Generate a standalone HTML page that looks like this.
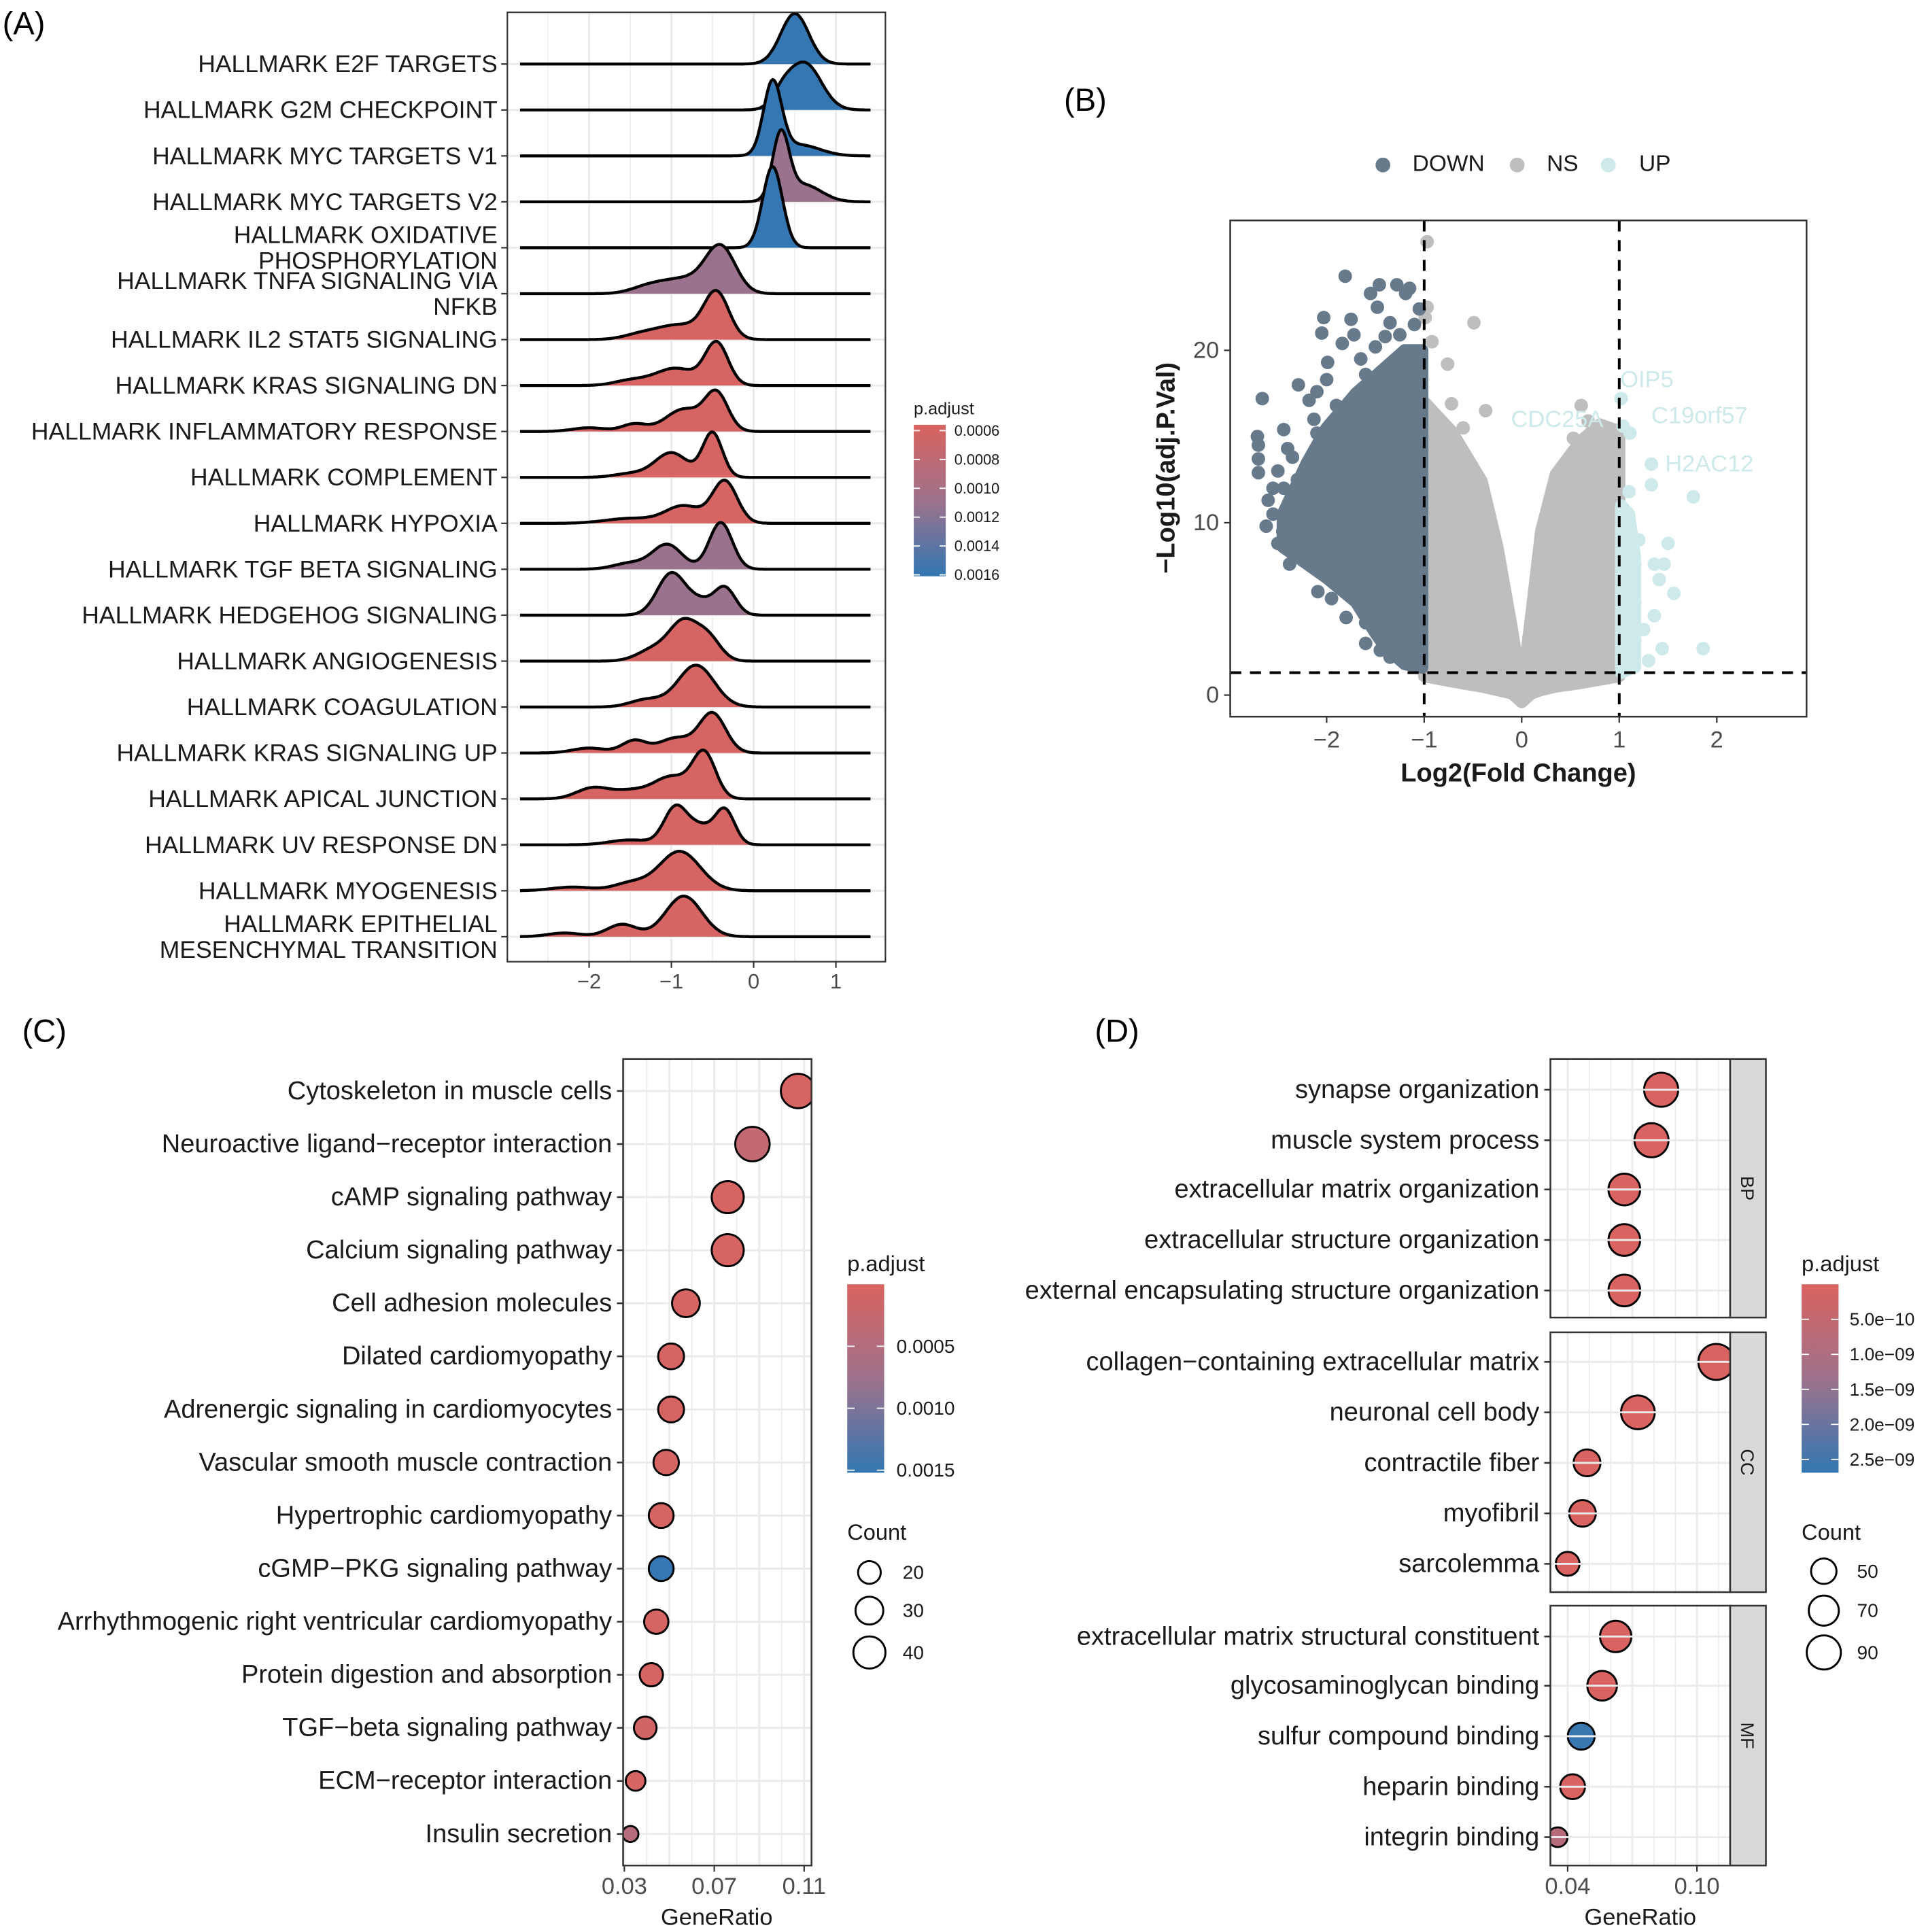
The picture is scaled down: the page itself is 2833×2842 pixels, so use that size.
<!DOCTYPE html>
<html><head><meta charset="utf-8"><style>
html,body{margin:0;padding:0;background:#fff;}
svg{display:block;font-family:"Liberation Sans",Arial,sans-serif;}
</style></head>
<body>
<svg id="fig" xmlns="http://www.w3.org/2000/svg" width="2833" height="2842" viewBox="0 0 1564 1569" preserveAspectRatio="none">
<defs>
<linearGradient id="gradA" x1="0" y1="0" x2="0" y2="1"><stop offset="0" stop-color="#d9635f"/><stop offset="0.5" stop-color="#9e728c"/><stop offset="1" stop-color="#3277b3"/></linearGradient>
<clipPath id="clipA"><rect x="412" y="10" width="307" height="771"/></clipPath>
<clipPath id="clipB"><rect x="999" y="179" width="468" height="403"/></clipPath>
<clipPath id="clipC"><rect x="506" y="860" width="153" height="655"/></clipPath>
<clipPath id="clipD1"><rect x="1259" y="860" width="146" height="210"/></clipPath>
<clipPath id="clipD2"><rect x="1259" y="1082" width="146" height="211"/></clipPath>
<clipPath id="clipD3"><rect x="1259" y="1304" width="146" height="211"/></clipPath>
</defs>
<rect x="0" y="0" width="1564" height="1569" fill="#fff"/>
<text x="2" y="28" font-size="26">(A)</text>
<text x="864" y="90" font-size="26">(B)</text>
<text x="18" y="846" font-size="26">(C)</text>
<text x="889" y="846" font-size="26">(D)</text>
<g id="gA"></g>
<g id="gB"></g>
<g id="gC"></g>
<g id="gD"></g>
</svg>
<script>
// ===== Panel A data =====
const ridgeNames = [["HALLMARK E2F TARGETS"],["HALLMARK G2M CHECKPOINT"],["HALLMARK MYC TARGETS V1"],["HALLMARK MYC TARGETS V2"],["HALLMARK OXIDATIVE","PHOSPHORYLATION"],["HALLMARK TNFA SIGNALING VIA","NFKB"],["HALLMARK IL2 STAT5 SIGNALING"],["HALLMARK KRAS SIGNALING DN"],["HALLMARK INFLAMMATORY RESPONSE"],["HALLMARK COMPLEMENT"],["HALLMARK HYPOXIA"],["HALLMARK TGF BETA SIGNALING"],["HALLMARK HEDGEHOG SIGNALING"],["HALLMARK ANGIOGENESIS"],["HALLMARK COAGULATION"],["HALLMARK KRAS SIGNALING UP"],["HALLMARK APICAL JUNCTION"],["HALLMARK UV RESPONSE DN"],["HALLMARK MYOGENESIS"],["HALLMARK EPITHELIAL","MESENCHYMAL TRANSITION"]];
const ridgePadj = [0.0016,0.0016,0.0016,0.0011,0.0016,0.0011,0.0006,0.0006,0.0006,0.0006,0.0006,0.0011,0.0011,0.0006,0.0006,0.0006,0.0006,0.0006,0.0006,0.0006];
// density components: [center log2FC, sd, relative height]
const ridgeComponents = [
 [[0.5,0.17,41]],
 [[0.62,0.2,38],[0.35,0.12,10]],
 [[0.23,0.11,58],[0.55,0.25,9]],
 [[0.33,0.1,52],[0.6,0.22,14]],
 [[0.23,0.12,66]],
 [[-0.4,0.18,36],[-0.85,0.3,12],[-1.3,0.2,4]],
 [[-0.45,0.15,36],[-0.9,0.3,12],[-1.4,0.2,3]],
 [[-0.45,0.14,34],[-0.95,0.25,14],[-1.5,0.2,4]],
 [[-0.45,0.14,30],[-0.85,0.22,18],[-1.45,0.15,6],[-2.0,0.2,3]],
 [[-0.5,0.12,36],[-1.0,0.2,20],[-1.5,0.2,3]],
 [[-0.35,0.15,34],[-0.85,0.22,14],[-1.5,0.3,4]],
 [[-0.4,0.14,38],[-1.05,0.18,20],[-1.5,0.2,5]],
 [[-1.0,0.17,34],[-0.35,0.13,22],[-0.65,0.15,10]],
 [[-0.85,0.17,30],[-0.55,0.15,18],[-1.2,0.2,10]],
 [[-0.7,0.22,34],[-1.3,0.2,6]],
 [[-0.5,0.16,32],[-0.95,0.2,12],[-1.45,0.15,10],[-2.0,0.2,4]],
 [[-0.6,0.14,36],[-1.0,0.22,18],[-1.95,0.2,9],[-1.5,0.2,6]],
 [[-0.95,0.14,30],[-0.35,0.12,28],[-0.65,0.15,14],[-1.5,0.25,4]],
 [[-0.9,0.25,32],[-1.5,0.2,6],[-2.2,0.25,3]],
 [[-0.85,0.22,33],[-1.6,0.18,10],[-2.3,0.2,3]]
];
const ridgeTicks = [-2,-1,0,1];
const ridgeLegendTicks = [0.0006,0.0008,0.0010,0.0012,0.0014,0.0016];

// ===== Panel B data =====
const volLegend = ["DOWN","NS","UP"];
const volXTicks = [-2,-1,0,1,2];
const volYTicks = [0,10,20];
// NS left cloud envelope: [log2FC, top, bottom]
const nsLeftEnv = [[-1.0,17.0,1.1],[-0.72,15.3,0.8],[-0.41,12.4,0.5],[-0.25,8.6,0.3],[-0.1,3.8,0.1],[0,0.2,-0.4]];
const nsRightEnv = [[0,0.2,-0.4],[0.1,4.7,0.1],[0.2,9.5,0.3],[0.35,12.8,0.5],[0.6,14.7,0.7],[0.8,15.7,0.9],[1.0,15.3,1.1]];
const downEnv = [[-2.45,10.5,8.6],[-2.2,13.5,7.6],[-2.0,15.5,6.8],[-1.7,17.5,5.4],[-1.5,18.5,3.6],[-1.4,19.0,2.8],[-1.2,20.0,1.8],[-1.02,20.0,1.6]];
const upEnv = [[1.02,11.0,1.3],[1.1,10.5,1.5],[1.16,8.0,1.6]];
const downPts = [[-1.81,24.3],[-1.55,23.3],[-1.46,23.8],[-1.28,23.8],[-1.15,23.6],[-1.19,23.3],[-1.48,22.5],[-2.03,21.9],[-2.05,21.0],[-1.75,21.8],[-1.72,20.9],[-1.84,20.4],[-2.66,17.2],[-2.29,18.0],[-2.71,15.0],[-2.70,14.5],[-2.70,13.7],[-2.70,12.9],[-2.44,15.4],[-2.44,12.0],[-2.38,7.6],[-1.80,4.5],[-2.09,6.0],[-1.99,19.3],[-2.18,17.1],[-2.13,16.0],[-2.55,10.5],[-2.45,9.5],[-1.6,3.0],[-1.35,2.2],
 [-2.5,13.0],[-2.55,12.0],[-2.35,13.8],[-2.3,12.5],[-2.25,11.0],[-2.35,10.0],[-2.2,9.5],[-2.15,8.2],[-2.0,7.2],[-1.95,5.6],[-1.9,7.8],[-1.7,6.0],[-1.6,4.2],[-1.55,5.5],[-1.45,2.6],[-1.3,3.5],[-1.25,2.2],[-1.12,1.8],
 [-2.1,17.6],[-2.0,18.3],[-1.9,16.8],[-1.65,19.5],[-1.6,18.6],[-1.5,20.2],[-1.4,20.8],[-1.35,21.6],[-1.25,20.9],[-1.1,21.5],[-1.05,22.4],[-1.9,14.5],[-2.1,15.2],[-2.4,14.3],[-2.6,11.3],[-2.62,9.8],[-2.5,8.8]];
const nsPts = [[-0.97,26.3],[-0.97,22.5],[-0.49,21.6],[-0.99,21.9],[-0.92,20.5],[-0.76,19.2],[-0.72,16.9],[-0.37,16.5],[0.61,16.8],[-0.6,15.5],[0.53,14.9],[0.81,15.5],[0.68,15.9]];
const upPts = [[1.02,17.2],[1.04,15.6],[1.11,15.2],[1.33,13.4],[1.33,12.2],[1.76,11.5],[1.1,11.8],[1.07,10.3],[1.08,9.4],[1.5,8.8],[1.36,7.6],[1.56,5.9],[1.46,7.6],[1.41,6.7],[1.36,4.6],[1.86,2.7],[1.44,2.7],[1.16,3.2],[1.05,6.7],[1.12,4.8],[1.03,1.9],[1.3,2.0],[1.16,5.4],[1.16,7.6],[1.25,3.8],[1.2,9.0]];
const volLabels = [["OIP5",1.01,18.3],["C19orf57",1.33,16.2],["CDC25A",-0.11,16.0],["H2AC12",1.47,13.4]];

// ===== Panel C data =====
const keggTerms = ["Cytoskeleton in muscle cells","Neuroactive ligand\u2212receptor interaction","cAMP signaling pathway","Calcium signaling pathway","Cell adhesion molecules","Dilated cardiomyopathy","Adrenergic signaling in cardiomyocytes","Vascular smooth muscle contraction","Hypertrophic cardiomyopathy","cGMP\u2212PKG signaling pathway","Arrhythmogenic right ventricular cardiomyopathy","Protein digestion and absorption","TGF\u2212beta signaling pathway","ECM\u2212receptor interaction","Insulin secretion"];
const keggRatio = [0.1073,0.087,0.076,0.076,0.0574,0.0508,0.0508,0.0486,0.0464,0.0464,0.0442,0.042,0.0393,0.035,0.0327];
const keggCount = [46,46,40,40,30,26,26,25,24,24,23,21,20,15,10];
const keggPadj = [0.00005,0.0003,0.00005,0.00005,0.00005,0.00005,0.00005,0.00005,0.00005,0.00150,0.00005,0.00005,0.0001,0.00005,0.00045];
const keggXTicks = [0.03,0.07,0.11];
const keggLegendP = [0.0005,0.0010,0.0015];
const keggLegendCount = [20,30,40];

// ===== Panel D data =====
const goTerms = [["synapse organization","muscle system process","extracellular matrix organization","extracellular structure organization","external encapsulating structure organization"],["collagen\u2212containing extracellular matrix","neuronal cell body","contractile fiber","myofibril","sarcolemma"],["extracellular matrix structural constituent","glycosaminoglycan binding","sulfur compound binding","heparin binding","integrin binding"]];
const goFacets = ["BP","CC","MF"];
const goRatio = [[0.0834,0.0789,0.0663,0.0663,0.0663],[0.109,0.0726,0.049,0.0469,0.040],[0.0623,0.056,0.0463,0.0423,0.0354]];
const goCount = [[90,90,78,78,78],[100,88,56,55,44],[76,68,56,48,30]];
const goPadj = [[2e-11,2e-11,2e-11,2e-11,2e-11],[2e-11,2e-11,2e-11,2e-11,2e-11],[2e-11,2e-11,2.6e-9,2e-11,8e-10]];
const goXTicks = [0.04,0.10];
const goLegendP = [5e-10,1e-9,1.5e-9,2e-9,2.5e-9];
const goLegendPLabels = ["5.0e\u221210","1.0e\u221209","1.5e\u221209","2.0e\u221209","2.5e\u221209"];
const goLegendCount = [50,70,90];

const NS = "http://www.w3.org/2000/svg";
function el(tag, parent, attrs){ const e=document.createElementNS(NS,tag); for(const k in attrs) e.setAttribute(k,attrs[k]); parent.appendChild(e); return e; }
function txt(parent, x, y, s, size, anchor, extra){ const t=el('text',parent,Object.assign({x:x,y:y,'font-size':size,'text-anchor':anchor||'start','dominant-baseline':'central',fill:'#1a1a1a'},extra||{})); t.textContent=s; return t; }
const cR=[217,99,95], cP=[158,114,140], cB=[50,119,179];
function colorAt(t){ t=Math.max(0,Math.min(1,t)); let a,b,u; if(t<0.5){a=cR;b=cP;u=t/0.5;}else{a=cP;b=cB;u=(t-0.5)/0.5;} return 'rgb('+a.map((v,i)=>Math.round(v+(b[i]-v)*u)).join(',')+')'; }

// ================= Panel A =================
(function(){
 const g=document.getElementById('gA');
 const x0=412,x1=719,y0=10,y1=781;
 const xs=v=>612+v*66.8;
 const rowY=i=>52+i*37.3;
 const pcol=p=>colorAt((p-0.00056)/(0.00161-0.00056));
 el('rect',g,{x:x0,y:y0,width:x1-x0,height:y1-y0,fill:'#fff'});
 for(let v=-2.5; v<=1.01; v+=0.5){ const l=el('line',g,{x1:xs(v),x2:xs(v),y1:y0,y2:y1,stroke:'#ebebeb','stroke-width':v%1===0?1.6:0.8});
    }
 ridgeNames.forEach((n,i)=>{ const l=el('line',g,{x1:x0,x2:x1,y1:rowY(i),y2:rowY(i),stroke:'#ebebeb','stroke-width':1.6});
    });
 const clip=el('g',g,{'clip-path':'url(#clipA)'});
 const xmin=-2.84,xmax=1.42;
 ridgeComponents.forEach((comps,i)=>{
  const base=rowY(i); let pts=[];
  for(let k=0;k<=240;k++){ const v=xmin+(xmax-xmin)*k/240; let d=0; comps.forEach(c=>{d+=c[2]*Math.exp(-0.5*Math.pow((v-c[0])/c[1],2));}); pts.push([xs(v),base-d]); }
  const line='M'+pts.map(p=>p[0].toFixed(1)+','+p[1].toFixed(1)).join('L');
  const area=el('path',clip,{d:line+'L'+xs(xmax)+','+base+'L'+xs(xmin)+','+base+'Z',fill:pcol(ridgePadj[i])});
   
  const ln=el('path',clip,{d:line,fill:'none',stroke:'#000','stroke-width':2.4,'stroke-linejoin':'round'});
   
  const tk=el('line',g,{x1:x0-5,x2:x0,y1:base,y2:base,stroke:'#333','stroke-width':1.2});
   
  const lines=ridgeNames[i];
  lines.forEach((s,j)=>{ const yy = lines.length===1? base : base-10.5+j*21;
   const t=txt(g,404,yy,s,19.6,'end');   });
 });
 const fr=el('rect',g,{x:x0,y:y0,width:x1-x0,height:y1-y0,fill:'none',stroke:'#333','stroke-width':1.2});
  
 ridgeTicks.forEach(v=>{ const tk=el('line',g,{x1:xs(v),x2:xs(v),y1:y1,y2:y1+5,stroke:'#333','stroke-width':1.2});
   
  const t=txt(g,xs(v),797,v<0?'\u2212'+Math.abs(v):String(v),17,'middle',{fill:'#4d4d4d'});   });
 const lt=txt(g,742,332,'p.adjust',14,'start');  
 const bar=el('rect',g,{x:742,y:345,width:26,height:123,fill:'url(#gradA)'});
  
 ridgeLegendTicks.forEach(p=>{ const y=345+(p-0.00056)/(0.00161-0.00056)*123;
  el('line',g,{x1:742,x2:747,y1:y,y2:y,stroke:'#fff','stroke-width':1}); el('line',g,{x1:763,x2:768,y1:y,y2:y,stroke:'#fff','stroke-width':1});
  const t=txt(g,775,y,p.toFixed(4),12,'start',{fill:'#1a1a1a'});   });
})();

// ================= Panel B =================
(function(){
 const g=document.getElementById('gB');
 const x0=999,x1=1467,y0=179,y1=582;
 const xs=v=>1235.7+v*79.2, ys=v=>564.5-v*14.0;
 const cDown='#677a8c', cNS='#bebebe', cUp='#cde9ea';
 [[1123,cDown,'DOWN',1147],[1232,cNS,'NS',1256],[1306,cUp,'UP',1331]].forEach((d,i)=>{
  const c=el('circle',g,{cx:d[0],cy:134,r:6,fill:d[1]});  
  const t=txt(g,d[3],133,volLegend[i],18.5,'start');   });
 el('rect',g,{x:x0,y:y0,width:x1-x0,height:y1-y0,fill:'#fff'});
 const clip=el('g',g,{'clip-path':'url(#clipB)'});
 function envPath(env,col,name){ const top=env.map(e=>xs(e[0]).toFixed(1)+','+ys(e[1]).toFixed(1)); const bot=env.slice().reverse().map(e=>xs(e[0]).toFixed(1)+','+ys(e[2]).toFixed(1));
  const p=el('path',clip,{d:'M'+top.join('L')+'L'+bot.join('L')+'Z',fill:col,stroke:col,'stroke-width':10,'stroke-linejoin':'round'});
    }
 envPath(nsLeftEnv,cNS,'ns-cloud-left'); envPath(nsRightEnv,cNS,'ns-cloud-right');
 nsPts.forEach(p=>{ const c=el('circle',clip,{cx:xs(p[0]),cy:ys(p[1]),r:5.5,fill:cNS});   });
 envPath(downEnv,cDown,'down-cloud'); envPath(upEnv,cUp,'up-cloud');
 downPts.forEach(p=>{ const c=el('circle',clip,{cx:xs(p[0]),cy:ys(p[1]),r:5.5,fill:cDown});   });
 upPts.forEach(p=>{ const c=el('circle',clip,{cx:xs(p[0]),cy:ys(p[1]),r:5.5,fill:cUp});   });
 volLabels.forEach(l=>{ const t=txt(clip,xs(l[1]),ys(l[2]),l[0],19,'start',{fill:cUp});   });
 [[-1],[1]].forEach(v=>{ const l=el('line',clip,{x1:xs(v[0]),x2:xs(v[0]),y1:y0,y2:y1,stroke:'#000','stroke-width':2.2,'stroke-dasharray':'9,7'});   });
 const hl=el('line',clip,{x1:x0,x2:x1,y1:ys(1.3),y2:ys(1.3),stroke:'#000','stroke-width':2.2,'stroke-dasharray':'9,7'});  
 const fr=el('rect',g,{x:x0,y:y0,width:x1-x0,height:y1-y0,fill:'none',stroke:'#333','stroke-width':1.4});  
 volXTicks.forEach(v=>{ el('line',g,{x1:xs(v),x2:xs(v),y1:y1,y2:y1+5,stroke:'#333','stroke-width':1.2});
  const t=txt(g,xs(v),601,v<0?'\u2212'+Math.abs(v):String(v),19,'middle',{fill:'#4d4d4d'});   });
 volYTicks.forEach(v=>{ el('line',g,{x1:x0-5,x2:x0,y1:ys(v),y2:ys(v),stroke:'#333','stroke-width':1.2});
  const t=txt(g,990,ys(v),String(v),19,'end',{fill:'#4d4d4d'});   });
 const xt=txt(g,1233,628,'Log2(Fold Change)',21,'middle',{'font-weight':'bold'});  
 const yt=txt(g,947,380,'\u2212Log10(adj.P.Val)',21,'middle',{'font-weight':'bold',transform:'rotate(-90 947 380)'});  
})();

// ================= Panel C =================
(function(){
 const g=document.getElementById('gC');
 const x0=506,x1=659,y0=860,y1=1515;
 const xs=v=>507+(v-0.03)*1825, rowY=i=>886+i*43.1;
 const rs=c=>2.06*Math.sqrt(c);
 const pcol=p=>colorAt(p/0.00152);
 el('rect',g,{x:x0,y:y0,width:x1-x0,height:y1-y0,fill:'#fff'});
 for(let k=0;k<=8;k++){ const v=0.03+k*0.01; const l=el('line',g,{x1:xs(v),x2:xs(v),y1:y0,y2:y1,stroke:'#ebebeb','stroke-width':k%2===0?1.6:0.9});   }
 keggTerms.forEach((n,i)=>{ el('line',g,{x1:x0,x2:x1,y1:rowY(i),y2:rowY(i),stroke:'#ebebeb','stroke-width':1.6}); });
 const clip=el('g',g,{'clip-path':'url(#clipC)'});
 keggTerms.forEach((n,i)=>{
  const c=el('circle',clip,{cx:xs(keggRatio[i]),cy:rowY(i),r:rs(keggCount[i]),fill:pcol(keggPadj[i]),stroke:'#000','stroke-width':1.6});
   
  el('line',g,{x1:x0-5,x2:x0,y1:rowY(i),y2:rowY(i),stroke:'#333','stroke-width':1.4});
  const t=txt(g,497,rowY(i),n,21,'end');  
 });
 const fr=el('rect',g,{x:x0,y:y0,width:x1-x0,height:y1-y0,fill:'none',stroke:'#333','stroke-width':1.4});  
 keggXTicks.forEach(v=>{ el('line',g,{x1:xs(v),x2:xs(v),y1:y1,y2:y1+5,stroke:'#333','stroke-width':1.2});
  const t=txt(g,xs(v),1532,v.toFixed(2),19,'middle',{fill:'#4d4d4d'});   });
 const xt=txt(g,582,1557,'GeneRatio',19,'middle');  
 const lt=txt(g,688,1026,'p.adjust',18,'start');  
 const bar=el('rect',g,{x:688,y:1043,width:30,height:153,fill:'url(#gradA)'});  
 keggLegendP.forEach(p=>{ const y=1043+p/0.00152*153; el('line',g,{x1:688,x2:694,y1:y,y2:y,stroke:'#fff'}); el('line',g,{x1:712,x2:718,y1:y,y2:y,stroke:'#fff'});
  const t=txt(g,728,y,p.toFixed(4),15.5,'start');   });
 const ct=txt(g,688,1244,'Count',18,'start');  
 keggLegendCount.forEach((c,j)=>{ const y=[1277,1308,1342][j];
  const ci=el('circle',g,{cx:706,cy:y,r:rs(c),fill:'none',stroke:'#000','stroke-width':1.6});  
  const t=txt(g,733,y,String(c),15.5,'start');   });
})();

// ================= Panel D =================
(function(){
 const g=document.getElementById('gD');
 const x0=1259,x1=1405;
 const facetY=[[860,1070],[1082,1293],[1304,1515]];
 const rowYs=[[885,926,966,1007,1048],[1106,1147,1188,1229,1270],[1329,1369,1410,1451,1492]];
 const xs=v=>1273+(v-0.04)*1750;
 const rs=c=>1.46*Math.sqrt(c);
 const pcol=p=>colorAt(p/2.69e-9);
 goFacets.forEach((f,fi)=>{
  const [ya,yb]=facetY[fi];
  el('rect',g,{x:x0,y:ya,width:x1-x0,height:yb-ya,fill:'#fff'});
  for(let k=-1;k<=7;k++){ const v=0.04+k*0.01; if(xs(v)<x0||xs(v)>x1) continue;
   const l=el('line',g,{x1:xs(v),x2:xs(v),y1:ya,y2:yb,stroke:'#ebebeb','stroke-width':(k%3===0)?1.6:0.9});   }
  const clip=el('g',g,{'clip-path':'url(#clipD'+(fi+1)+')'});
  goTerms[fi].forEach((n,i)=>{ const y=rowYs[fi][i];
   el('line',g,{x1:x0,x2:x1,y1:y,y2:y,stroke:'#ebebeb','stroke-width':1.6});
  });
  goTerms[fi].forEach((n,i)=>{ const y=rowYs[fi][i];
   const c=el('circle',clip,{cx:xs(goRatio[fi][i]),cy:y,r:rs(goCount[fi][i]),fill:pcol(goPadj[fi][i]),stroke:'#000','stroke-width':1.6});
    
   el('line',g,{x1:x0-5,x2:x0,y1:y,y2:y,stroke:'#333','stroke-width':1.4});
   const t=txt(g,1250,y,n,21,'end');  
  });
  const fr=el('rect',g,{x:x0,y:ya,width:x1-x0,height:yb-ya,fill:'none',stroke:'#333','stroke-width':1.4});  
  const st=el('rect',g,{x:1405,y:ya,width:29,height:yb-ya,fill:'#d9d9d9',stroke:'#333','stroke-width':1.4});  
  const cy=(ya+yb)/2; const t=txt(g,1419,cy,f,15,'middle',{fill:'#1a1a1a',transform:'rotate(90 1419 '+cy+')'});  
 });
 goXTicks.forEach(v=>{ el('line',g,{x1:xs(v),x2:xs(v),y1:1515,y2:1520,stroke:'#333','stroke-width':1.2});
  const t=txt(g,xs(v),1532,v.toFixed(2),19,'middle',{fill:'#4d4d4d'});   });
 const xt=txt(g,1332,1557,'GeneRatio',19,'middle');  
 const lt=txt(g,1463,1026,'p.adjust',18,'start');  
 const bar=el('rect',g,{x:1463,y:1043,width:30,height:153,fill:'url(#gradA)'});  
 goLegendP.forEach((p,j)=>{ const y=1043+p/2.69e-9*153; el('line',g,{x1:1463,x2:1469,y1:y,y2:y,stroke:'#fff'}); el('line',g,{x1:1487,x2:1493,y1:y,y2:y,stroke:'#fff'});
  const t=txt(g,1502,y,goLegendPLabels[j],14.5,'start');   });
 const ct=txt(g,1463,1244,'Count',18,'start');  
 goLegendCount.forEach((c,j)=>{ const y=[1276,1308,1342][j];
  const ci=el('circle',g,{cx:1481,cy:y,r:rs(c),fill:'none',stroke:'#000','stroke-width':1.6});  
  const t=txt(g,1508,y,String(c),15.5,'start');   });
})();
</script>
</body></html>
